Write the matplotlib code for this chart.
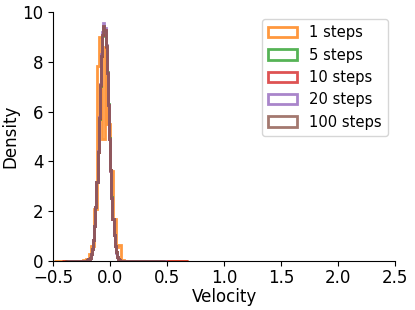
"""
Velocity distribution for different numbers of integration steps.
"""

import matplotlib
matplotlib.use("Agg")
import matplotlib.pyplot as plt
import numpy as np

# 1-step run: coarse bins (50 bins over the data range)
ONE_STEP_EDGES = np.linspace(-0.493, 0.682, 51)
ONE_STEP_DENSITY = [
    0, 0, 0, 0, 0, 0, 0, 0, 0, 0,
    0, 0.04, 0.1, 0.3, 0.6, 2.1, 7.85, 9.0, 4.9, 8.6,
    5.5, 3.6, 1.7, 0.55, 0.65, 0.05, 0, 0, 0, 0,
    0, 0, 0, 0, 0, 0, 0, 0, 0, 0,
    0, 0, 0, 0, 0, 0, 0, 0, 0, 0,
]

# other runs: fine bins in the core plus one wide bin on each tail
FINE_EDGES = np.linspace(-0.25, 0.15, 41)

STEPS_5 = [
    0.0003, 0.0008, 0.0022, 0.0056, 0.014, 0.031, 0.068, 0.14, 0.27, 0.50,
    0.86, 1.41, 2.18, 3.18, 4.39, 5.72, 7.05, 8.22, 9.05, 9.40,
    9.26, 8.62, 7.58, 6.29, 4.93, 3.65, 2.56, 1.69, 1.05, 0.62,
    0.35, 0.18, 0.09, 0.043, 0.019, 0.008, 0.003, 0.001, 0, 0,
]
STEPS_10 = [
    0.0003, 0.0008, 0.0022, 0.0056, 0.013, 0.031, 0.069, 0.14, 0.27, 0.49,
    0.85, 1.40, 2.17, 3.17, 4.38, 5.73, 7.07, 8.25, 9.08, 9.45,
    9.28, 8.61, 7.56, 6.27, 4.92, 3.64, 2.55, 1.69, 1.06, 0.62,
    0.35, 0.18, 0.09, 0.044, 0.020, 0.008, 0.003, 0.001, 0.001, 0.001,
]
STEPS_20 = [
    0.0003, 0.0008, 0.0022, 0.0056, 0.014, 0.031, 0.067, 0.14, 0.27, 0.50,
    0.86, 1.41, 2.17, 3.19, 4.41, 5.77, 7.13, 8.32, 9.20, 9.58,
    9.38, 8.66, 7.57, 6.26, 4.90, 3.62, 2.53, 1.67, 1.04, 0.61,
    0.34, 0.18, 0.09, 0.042, 0.019, 0.008, 0.003, 0.001, 0, 0,
]
STEPS_100 = [
    0.0003, 0.0008, 0.0022, 0.0056, 0.013, 0.031, 0.068, 0.14, 0.27, 0.50,
    0.86, 1.40, 2.17, 3.18, 4.39, 5.74, 7.08, 8.25, 9.09, 9.46,
    9.29, 8.62, 7.57, 6.28, 4.92, 3.64, 2.55, 1.68, 1.05, 0.62,
    0.35, 0.18, 0.09, 0.043, 0.019, 0.008, 0.003, 0.001, 0, 0,
]

# (label, core densities, lower tail start, upper tail end, colour)
FINE_RUNS = [
    ("5 steps", STEPS_5, -0.40, 0.45, "tab:green"),
    ("10 steps", STEPS_10, -0.42, 0.68, "tab:red"),
    ("20 steps", STEPS_20, -0.38, 0.50, "tab:purple"),
    ("100 steps", STEPS_100, -0.40, 0.48, "tab:brown"),
]

XTICKS = [-0.5, 0.0, 0.5, 1.0, 1.5, 2.0, 2.5]
YTICKS = [0, 2, 4, 6, 8, 10]

fig = plt.figure(figsize=(4.15, 3.10), dpi=100)
ax = fig.add_axes([0.128, 0.158, 0.824, 0.803])

style = dict(histtype="step", linewidth=2.0, alpha=0.8)

centers = (ONE_STEP_EDGES[:-1] + ONE_STEP_EDGES[1:]) / 2
ax.hist(centers, bins=ONE_STEP_EDGES, weights=ONE_STEP_DENSITY,
        color="tab:orange", label="1 steps", **style)

for label, dens, lo, hi, color in FINE_RUNS:
    edges = np.concatenate([[lo], FINE_EDGES, [hi]])
    vals = [0.0] + list(dens) + [0.0]
    mids = (edges[:-1] + edges[1:]) / 2
    ax.hist(mids, bins=edges, weights=vals, color=color, label=label, **style)

ax.set_xlim(-0.5, 2.5)
ax.set_ylim(0, 10)
ax.set_xticks(XTICKS)
ax.set_yticks(YTICKS)
ax.tick_params(labelsize=12)
ax.tick_params(axis="x", pad=2)
ax.set_xlabel("Velocity", fontsize=12, labelpad=1)
ax.set_ylabel("Density", fontsize=12, labelpad=2)
ax.spines["top"].set_visible(False)
ax.spines["right"].set_visible(False)
ax.legend(loc="upper right", fontsize=10.6)

fig.savefig("out.png", dpi=100)
